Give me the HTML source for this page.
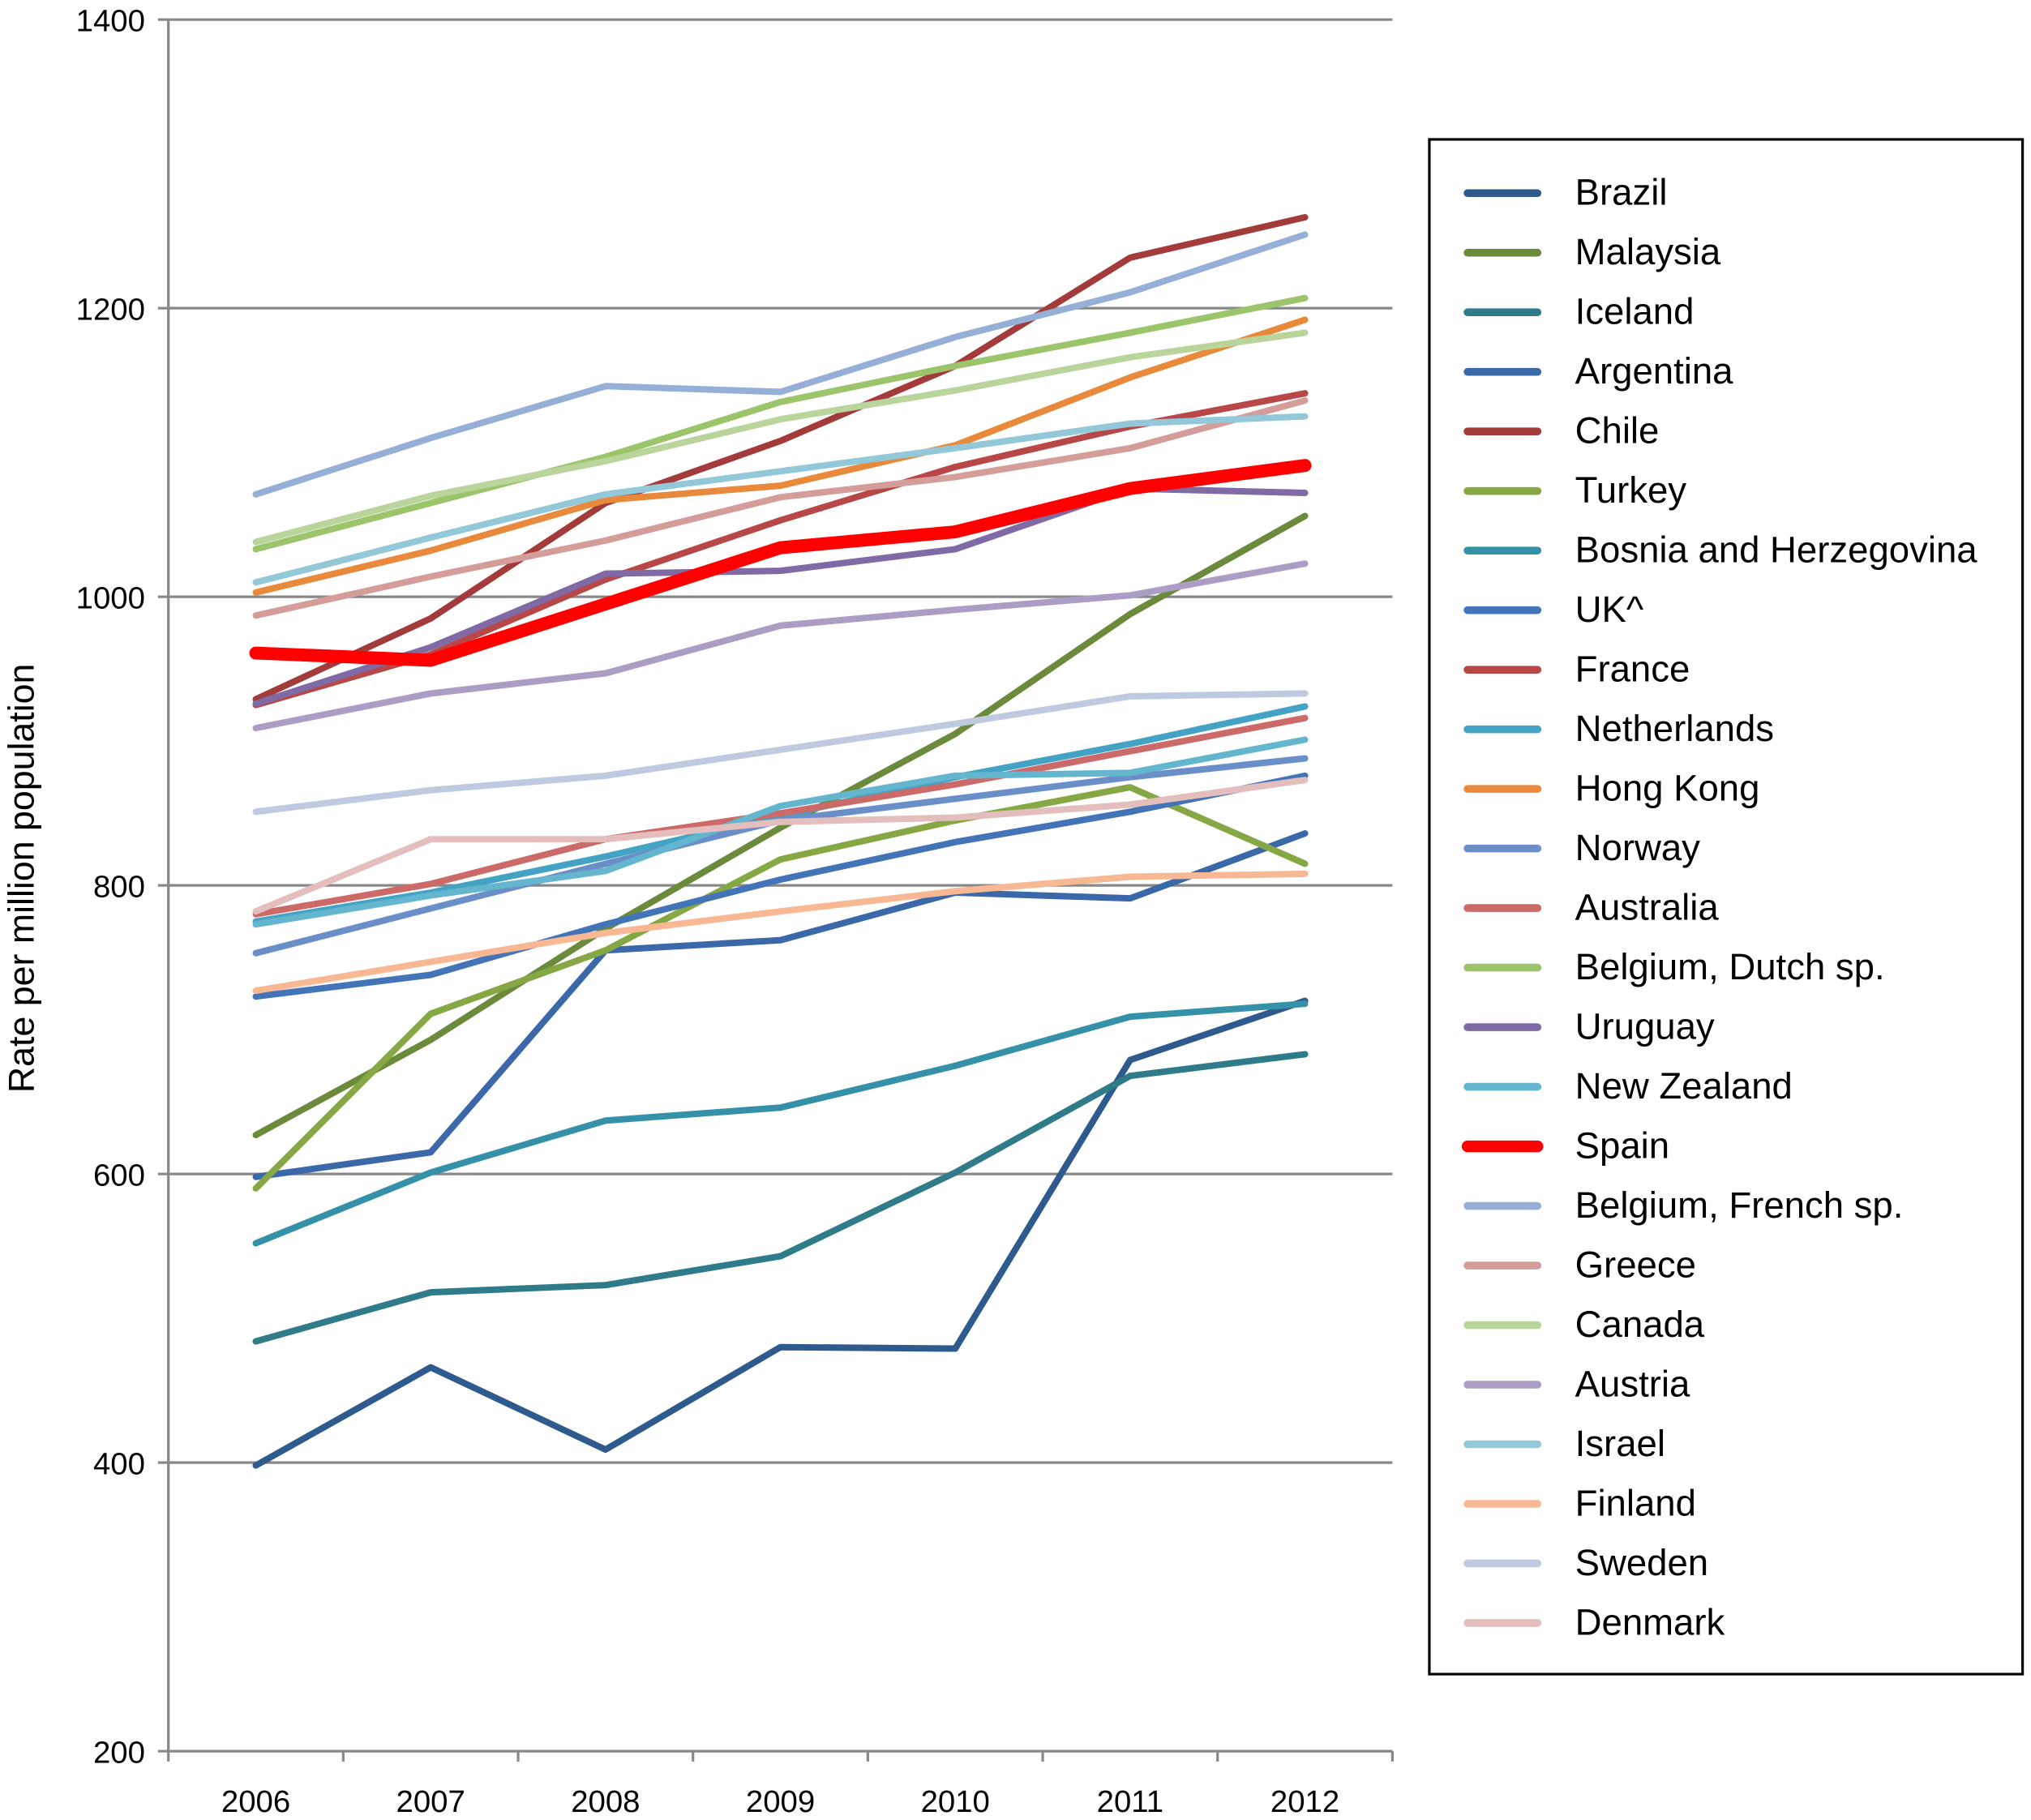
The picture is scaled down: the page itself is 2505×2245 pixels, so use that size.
<!DOCTYPE html>
<html><head><meta charset="utf-8"><style>
html,body{margin:0;padding:0;background:#fff;}
svg{display:block;font-family:"Liberation Sans",Arial,sans-serif;}
</style></head><body>
<svg id="chart" width="2505" height="2245" viewBox="0 0 1568 1405" xmlns="http://www.w3.org/2000/svg">
<g id="grid"></g>
<g id="axes"></g>
<g id="series"></g>
<text transform="translate(26,678) rotate(-90)" text-anchor="middle" font-size="28">Rate per million population</text>
<g id="legend">
<rect x="1103.5" y="107.5" width="458" height="1185" fill="#fff" stroke="#000" stroke-width="2"/>
</g>
</svg>
<script>
const years = ["2006","2007","2008","2009","2010","2011","2012"];
const yTicks = [200,400,600,800,1000,1200,1400];
const names = ["Brazil","Malaysia","Iceland","Argentina","Chile","Turkey","Bosnia and Herzegovina","UK^","France","Netherlands","Hong Kong","Norway","Australia","Belgium, Dutch sp.","Uruguay","New Zealand","Spain","Belgium, French sp.","Greece","Canada","Austria","Israel","Finland","Sweden","Denmark"];
const colors = ["#2f5a8e","#6b8a3c","#2f7b8a","#3b68a8","#a33b3b","#86a844","#3591a8","#4474b8","#b84848","#44a3c4","#e8893c","#6a8fc8","#cc6a6a","#9cc46a","#7f6aa6","#64b6cf","#ff0000","#96afd6","#d49d99","#bad59c","#ac9dc4","#92c8d8","#f7b893","#bfcae0","#e4bdbd"];
const vBrazil = [398,466,409,480,479,679,720];
const vMalaysia = [627,693,770,840,905,988,1056];
const vIceland = [484,518,523,543,601,668,683];
const vArgentina = [598,615,755,762,795,791,836];
const vChile = [929,985,1065,1108,1160,1235,1263];
const vTurkey = [590,711,755,818,845,868,815];
const vBosnia = [552,601,637,646,675,709,718];
const vUK = [723,738,773,804,830,851,876];
const vFrance = [925,960,1012,1053,1090,1118,1141];
const vNetherlands = [775,795,820,848,875,898,924];
const vHongKong = [1003,1032,1067,1077,1105,1152,1192];
const vNorway = [753,784,815,845,860,875,888];
const vAustralia = [780,801,832,850,870,893,916];
const vBelgiumDutch = [1033,1065,1097,1135,1160,1183,1207];
const vUruguay = [926,965,1016,1018,1033,1075,1072];
const vNewZealand = [773,793,810,855,876,878,901];
const vSpain = [961,956,995,1034,1045,1075,1091];
const vBelgiumFrench = [1071,1110,1146,1142,1180,1211,1251];
const vGreece = [987,1014,1039,1069,1083,1103,1136];
const vCanada = [1038,1070,1094,1123,1143,1166,1183];
const vAustria = [909,933,947,980,991,1001,1023];
const vIsrael = [1010,1041,1071,1087,1103,1120,1125];
const vFinland = [727,747,767,782,796,806,808];
const vSweden = [851,866,876,894,912,931,933];
const vDenmark = [782,832,832,844,847,856,873];
const allSeries = [vBrazil,vMalaysia,vIceland,vArgentina,vChile,vTurkey,vBosnia,vUK,vFrance,vNetherlands,vHongKong,vNorway,vAustralia,vBelgiumDutch,vUruguay,vNewZealand,vSpain,vBelgiumFrench,vGreece,vCanada,vAustria,vIsrael,vFinland,vSweden,vDenmark];

const NS="http://www.w3.org/2000/svg";
const L=130,R=1075,T=15,B=1352,yMin=200,yMax=1400;
const band=(R-L)/years.length;
const x=i=>L+band*(i+0.5);
const y=v=>B-(v-yMin)/(yMax-yMin)*(B-T);
function mk(tag,attrs,parent){const e=document.createElementNS(NS,tag);for(const k in attrs)e.setAttribute(k,attrs[k]);parent.appendChild(e);return e;}
const grid=document.getElementById('grid'),axes=document.getElementById('axes'),ser=document.getElementById('series'),leg=document.getElementById('legend');
yTicks.forEach(t=>{
  if(t>yMin){const g=mk('line',{x1:L,x2:R,y1:y(t),y2:y(t),stroke:'#888','stroke-width':2},grid);
  
  }
  const tk=mk('line',{x1:L-8,x2:L,y1:y(t),y2:y(t),stroke:'#888','stroke-width':2},axes);
  
  
  const tx=mk('text',{x:L-18,y:y(t)+9,'text-anchor':'end','font-size':24},axes);tx.textContent=t;
  
  
});
const ya=mk('line',{x1:L,x2:L,y1:T,y2:B,stroke:'#888','stroke-width':2},axes);


const xa=mk('line',{x1:L,x2:R,y1:B,y2:B,stroke:'#888','stroke-width':2},axes);


for(let i=0;i<=years.length;i++){const tk=mk('line',{x1:L+band*i,x2:L+band*i,y1:B,y2:B+8,stroke:'#888','stroke-width':2},axes);
  
  }
years.forEach((yr,i)=>{const t=mk('text',{x:x(i),y:1399,'text-anchor':'middle','font-size':24},axes);t.textContent=yr;
  
  });
allSeries.forEach((vals,si)=>{
  const pts=vals.map((v,i)=>x(i)+','+y(v)).join(' ');
  const p=mk('polyline',{points:pts,fill:'none',stroke:colors[si],'stroke-width':names[si]==='Spain'?10:5,'stroke-linejoin':'round','stroke-linecap':'round'},ser);
  
  
});
names.forEach((n,si)=>{
  const ly=149+si*46.0;
  const g=mk('g',{},leg);
  
  
  mk('line',{x1:1133,x2:1187,y1:ly,y2:ly,stroke:colors[si],'stroke-width':n==='Spain'?9:6,'stroke-linecap':'round'},g);
  const t=mk('text',{x:1216,y:ly+9,'font-size':28.5},g);t.textContent=n;
});
</script>
</body></html>
